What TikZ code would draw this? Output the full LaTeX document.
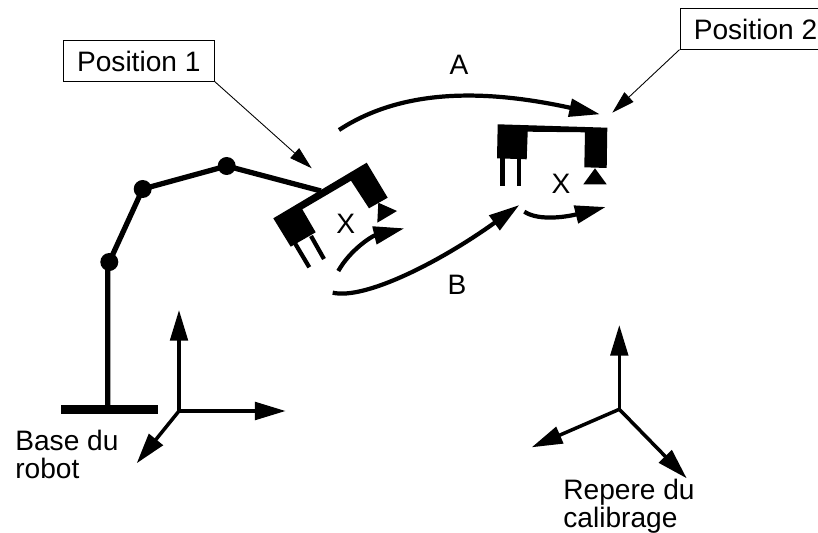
\documentclass[tikz,border=0pt]{standalone}
\usepackage{fontspec}
\setmainfont{Liberation Sans}
\usetikzlibrary{arrows.meta}
\tikzset{
	bigtip/.style={-{Triangle[length=17.5pt,width=10pt]}},
	thintip/.style={-{Triangle[length=13pt,width=7.5pt]}},
	label box/.style={draw, line width=0.5pt, inner sep=0pt, minimum height=23pt},
	legend/.style={align=left, anchor=north west, inner sep=0pt}
}
\begin{document}
\begin{tikzpicture}[x=0.02cm, y=-0.02cm, font=\fontsize{16}{16}\selectfont, line join=miter]
	\useasboundingbox (0,0) rectangle (818,533);

	\path
		(109.3,262) coordinate (J1)
		(142.7,189) coordinate (J2)
		(226.7,166) coordinate (J3)
		(321,191) coordinate (W)
		(107.7,405) coordinate (P)
		(179,411) coordinate (O1)
		(179,310) coordinate (Y1)
		(285.7,411) coordinate (Z1)
		(136.7,463.3) coordinate (U1)
		(619.3,409.3) coordinate (O2)
		(619.3,325) coordinate (Y2)
		(531.7,447.3) coordinate (Z2)
		(686.7,478.3) coordinate (U2)
	;

	% robot
	\fill (60.7,405) rectangle (158.3,414);
	\draw[line width=3pt]
		(P) -- (107.7,262)
		(J1) -- (J2) -- (J3) -- (W)
	;
	\foreach \i/\r in {J1/9, J2/9, J3/9}{
		\fill (\i) circle(\r);
	}

	% pince 1
	\fill (273.3,218.3) -- (366.7,162.7) -- (387.7,197.7) -- (369,208.3) -- (351,180.7)
		-- (302.3,209.3) -- (315.7,232.3) -- (290.7,246.7) -- cycle;
	\fill (377.3,222.7) -- (378.3,202.7) -- (397,211) -- cycle;
	\draw[line width=2.4pt]
		(295,243.3) -- (309.3,267.3)
		(311,236) -- (324,259)
	;
	\node (X1) at (345.7,224) {X};

	% pince 2
	\fill (497.7,124.3) -- (607.3,127.7) -- (606.7,168) -- (584.3,167.3) -- (585,132.3)
		-- (527.7,131.7) -- (526.7,159.3) -- (497,158.3) -- cycle;
	\fill (583.3,184.3) -- (606.7,184.3) -- (595,168.3) -- cycle;
	\draw[line width=2.6pt]
		(502.3,158) -- (502.3,186)
		(519,158) -- (519,186)
	;
	\node (X2) at (561,184) {X};

	% deplacements
	\draw[bigtip, line width=2.4pt] (338.3,271) .. controls (350,250) and (372,236) .. (404.3,228.3);
	\draw[bigtip, line width=2.4pt] (524.3,211.7) .. controls (540,222) and (570,216) .. (605.7,207);
	\draw[bigtip, line width=2.4pt] (339,130) .. controls (400,90) and (480,88) .. (600,114.3);
	\draw[bigtip, line width=2.4pt] (332.7,292.7) .. controls (365,300) and (440,262) .. (519.3,205);
	\node (A) at (459,65) {A};
	\node (B) at (457,285) {B};

	% positions
	\node[label box, minimum width=86pt] (pos1) at (138.8,61) {Position 1};
	\node[label box, minimum width=86pt] (pos2) at (755.5,29) {Position 2};
	\coordinate (T1) at (311.7,168.3);
	\coordinate (T2) at (612.3,112.7);
	\draw[thintip, line width=0.5pt] (pos1.south east) -- (T1);
	\draw[thintip, line width=0.5pt] (pos2.south west) -- (T2);

	% reperes
	\draw[bigtip, line width=2pt] (O1) -- (Y1);
	\draw[bigtip, line width=2pt] (O1) -- (Z1);
	\draw[bigtip, line width=2pt] (O1) -- (U1);
	\draw[bigtip, line width=2pt] (O2) -- (Y2);
	\draw[bigtip, line width=2pt] (O2) -- (Z2);
	\draw[bigtip, line width=2pt] (O2) -- (U2);

	\node[legend] (base) at (15,430) {Base du\\robot};
	\node[legend] (repere) at (563,479) {Repere du\\calibrage};
\end{tikzpicture}
\end{document}
